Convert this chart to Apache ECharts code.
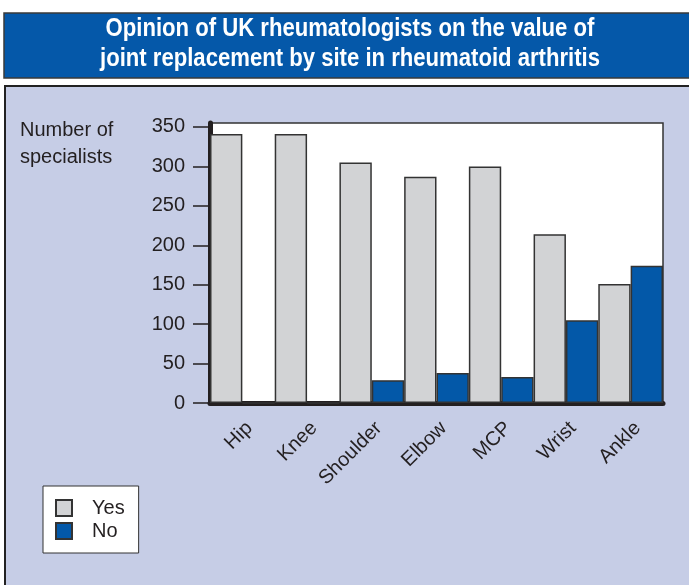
<!DOCTYPE html>
<html>
<head>
<meta charset="utf-8">
<script src="https://cdn.jsdelivr.net/npm/echarts@6/dist/echarts.min.js"></script>
<style>
  html, body { margin: 0; padding: 0; background: #fff; }
  #chart { width: 689px; height: 585px; }
</style>
</head>
<body>
<div id="chart"></div>
<script>
var sites = ['Hip', 'Knee', 'Shoulder', 'Elbow', 'MCP', 'Wrist', 'Ankle'];
var yesVals = [341, 341, 305, 287, 300, 214, 151];
var noVals = [0, 0, 29, 38, 33, 105, 174];
var yTicks = [0, 50, 100, 150, 200, 250, 300, 350];
var titleLines = ['Opinion of UK rheumatologists on the value of',
                  'joint replacement by site in rheumatoid arthritis'];

var chart = echarts.init(document.getElementById('chart'), null, {renderer: 'canvas'});
var font = 'Liberation Sans, Arial, sans-serif';
var titleFont = 'bold 25px Liberation Sans, Arial, sans-serif';

// squeeze the title horizontally to look like a condensed face
var ctx = document.createElement('canvas').getContext('2d');
ctx.font = titleFont;
var squeeze = 500 / ctx.measureText(titleLines[1]).width;

chart.setOption({
    backgroundColor: '#fff',
    animation: false,
    graphic: [
        {type: 'rect', z: -10, shape: {x: 4, y: 13, width: 700, height: 65},
         style: {fill: '#0558a9', stroke: '#3a3a3a', lineWidth: 1.5}},
        {type: 'rect', z: -10, shape: {x: 5, y: 86, width: 700, height: 510},
         style: {fill: '#c6cde6', stroke: '#222', lineWidth: 2}},
        {type: 'text', x: 350, y: 29, scaleX: squeeze,
         style: {text: titleLines[0], font: titleFont, fill: '#fff', textAlign: 'center', textVerticalAlign: 'middle'}},
        {type: 'text', x: 350, y: 59, scaleX: squeeze,
         style: {text: titleLines[1], font: titleFont, fill: '#fff', textAlign: 'center', textVerticalAlign: 'middle'}},
        {type: 'text', left: 20, top: 117,
         style: {text: 'Number of\nspecialists', font: '20px ' + font, fill: '#231f20', lineHeight: 27}}
    ],
    legend: {
        orient: 'vertical', left: 43, top: 486,
        padding: [12, 14, 12, 12],
        itemWidth: 16, itemHeight: 16, itemGap: 3,
        backgroundColor: '#fff', borderColor: '#333', borderWidth: 1,
        icon: 'rect',
        textStyle: {fontFamily: font, fontSize: 20, color: '#231f20', padding: [0, 0, 0, 15], lineHeight: 16}
    },
    grid: {
        left: 210, right: 26, top: 123, bottom: 182,
        show: true, backgroundColor: '#fff', borderColor: '#333', borderWidth: 1.5
    },
    xAxis: {
        type: 'category', data: sites, offset: 2,
        axisLine: {lineStyle: {color: '#231f20', width: 5}},
        axisTick: {length: 18, lineStyle: {color: '#231f20', width: 1.5}},
        axisLabel: {rotate: 45, margin: 13, verticalAlign: 'top', fontFamily: font, fontSize: 20, color: '#231f20'}
    },
    yAxis: {
        type: 'value', min: 0, max: 355,
        splitLine: {show: false},
        axisLine: {show: true, lineStyle: {color: '#231f20', width: 5}},
        axisTick: {show: true, length: 17, customValues: yTicks, lineStyle: {color: '#231f20', width: 1.5}},
        axisLabel: {margin: 25, customValues: yTicks, fontFamily: font, fontSize: 20, color: '#231f20'}
    },
    series: [
        {name: 'Yes', type: 'bar', data: yesVals, barGap: '0%', barCategoryGap: '0%',
         itemStyle: {color: '#d2d3d5', borderColor: '#333', borderWidth: 1.5}},
        {name: 'No', type: 'bar', data: noVals,
         itemStyle: {color: '#0358a8', borderColor: '#333', borderWidth: 1.5}}
    ]
});
</script>
</body>
</html>
